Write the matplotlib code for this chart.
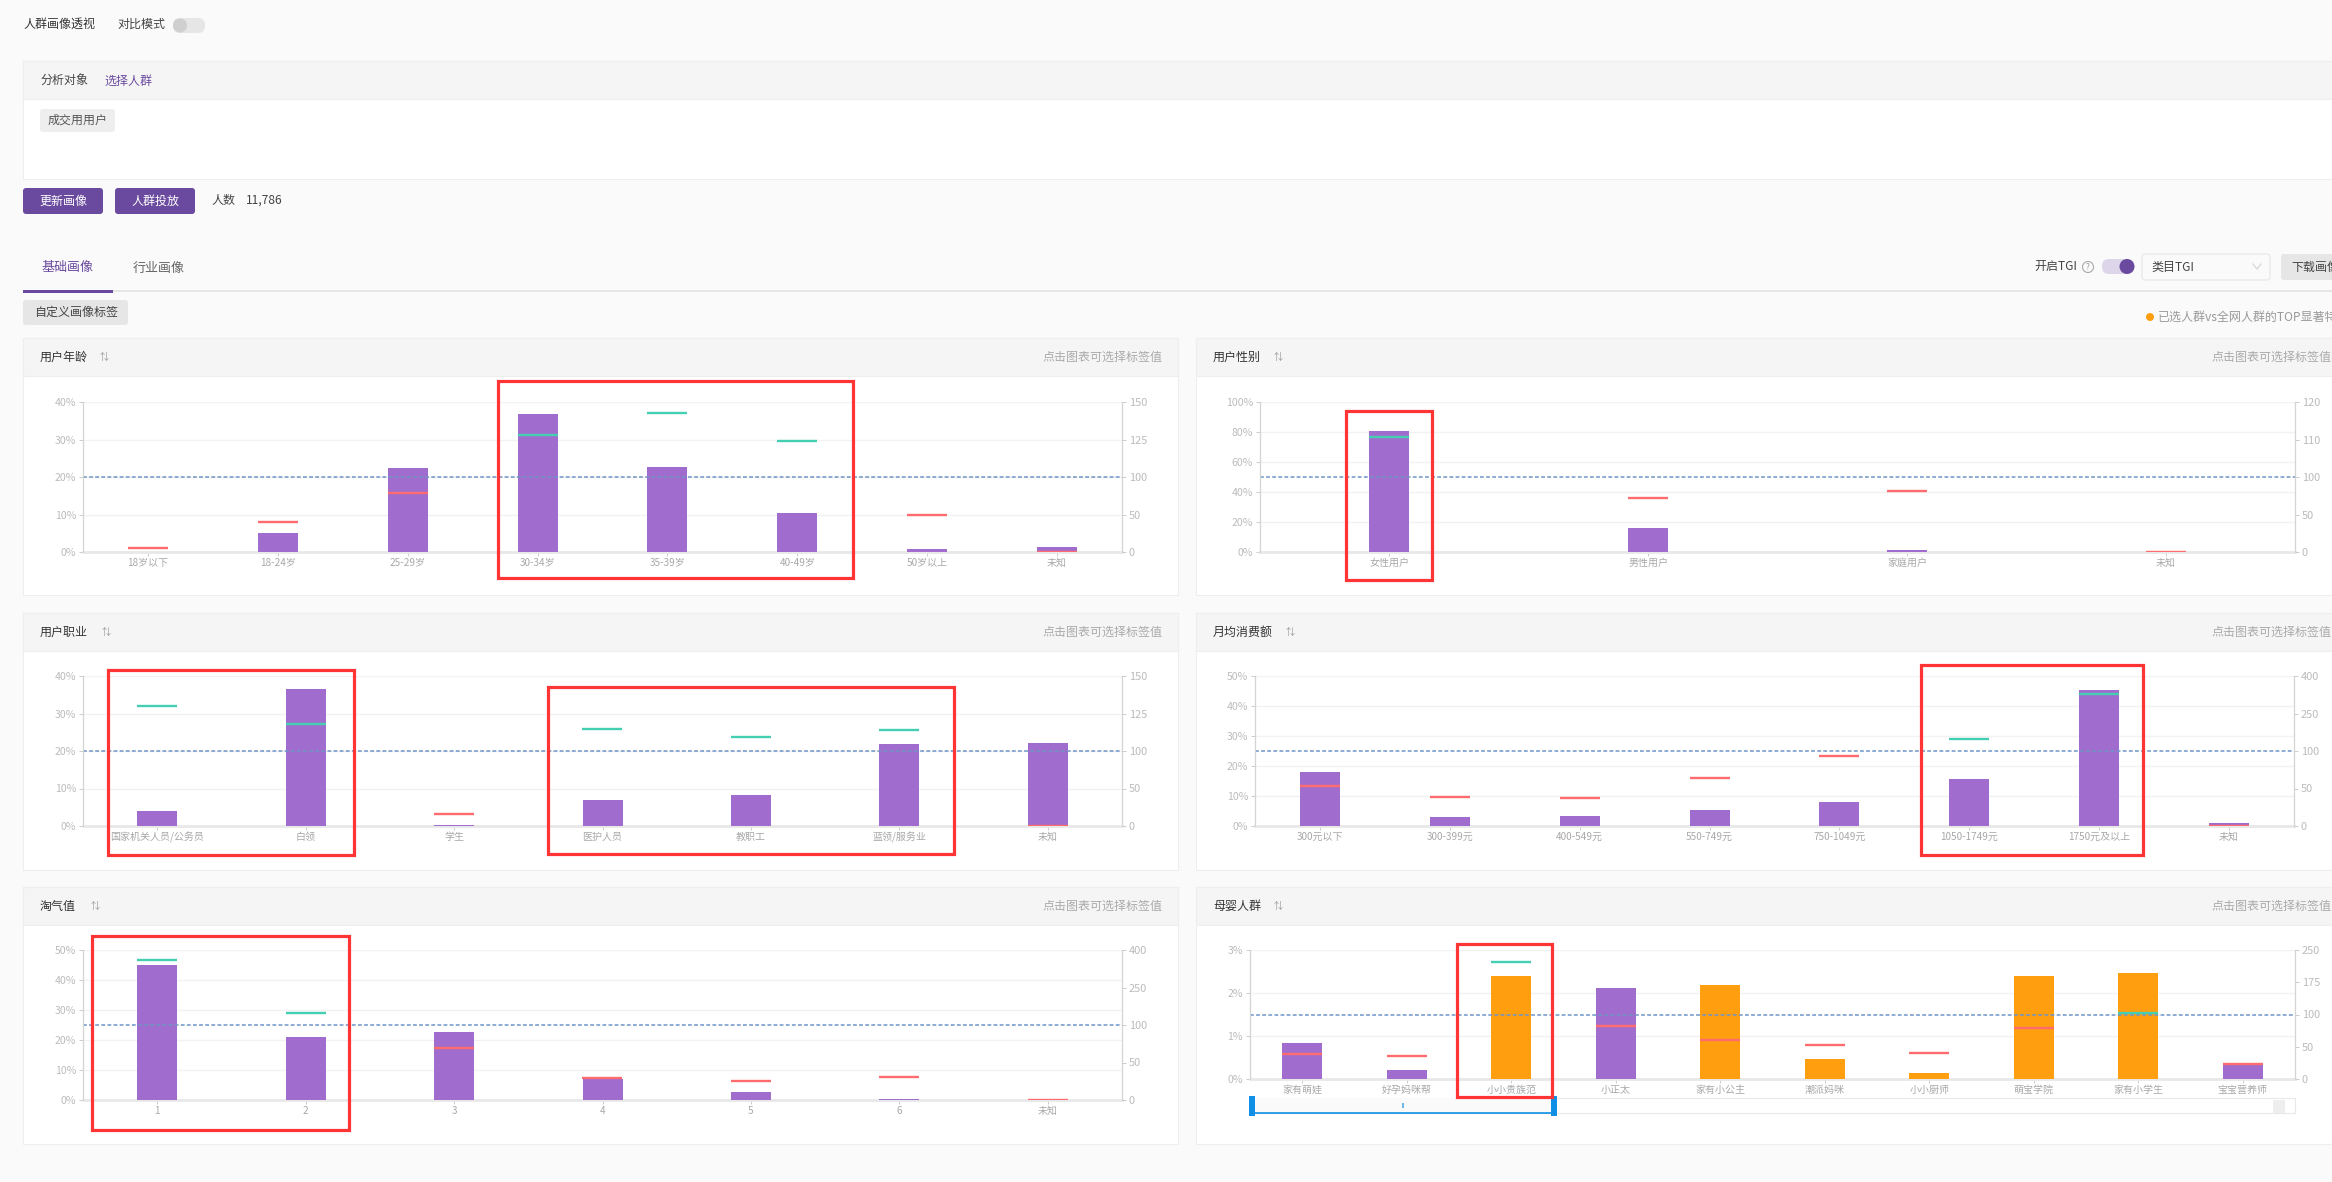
import numpy as np
import matplotlib
matplotlib.use("Agg")
import matplotlib.pyplot as plt
from matplotlib.patches import Rectangle, FancyBboxPatch, Circle

plt.rcParams['font.family'] = ['Noto Sans CJK SC', 'DejaVu Sans']

W, H = 2332, 1182

# chart data, bars are share in %, tgi goes on the right axis
age_labels = ["18岁以下", "18-24岁", "25-29岁", "30-34岁", "35-39岁", "40-49岁", "50岁以上", "未知"]
age_share = [0, 5.0, 22.3, 36.9, 22.8, 10.3, 0.9, 1.25]
age_tgi = [6, 40, 79, 128, 143, 124, 49, 0]

gender_labels = ["女性用户", "男性用户", "家庭用户", "未知"]
gender_share = [80.8, 16, 1.1, 0]
gender_tgi = [110.8, 72, 81, 0]

job_labels = ["国家机关人员/公务员", "白领", "学生", "医护人员", "教职工", "蓝领/服务业", "未知"]
job_share = [3.9, 36.5, 0.3, 6.9, 8.4, 21.8, 22.1]
job_tgi = [130, 118, 16, 115, 109.5, 114, 0]

spend_labels = ["300元以下", "300-399元", "400-549元", "550-749元", "750-1049元", "1050-1749元", "1750元及以上", "未知"]
spend_share = [17.9, 3, 3.2, 5.5, 8.1, 15.6, 45.3, 0.9]
spend_tgi = [53, 39, 37, 64, 94, 150, 329, 0]

taoqi_labels = ["1", "2", "3", "4", "5", "6", "未知"]
taoqi_share = [45, 20.9, 22.8, 7.1, 2.7, 0.35, 0]
taoqi_tgi = [361, 149, 69, 29, 25, 31, 0.5]

baby_labels = ["家有萌娃", "好孕妈咪帮", "小小贵族范", "小正太", "家有小公主", "潮派妈咪", "小小厨师", "萌宝学院", "家有小学生", "宝宝营养师"]
baby_share = [0.83, 0.21, 2.39, 2.12, 2.19, 0.47, 0.14, 2.39, 2.47, 0.33]
baby_tgi = [38, 36, 222, 82, 60, 52, 41, 79, 104, 23]
baby_top = [False, False, True, False, True, True, True, True, True, False]

PURPLE = "#a06dce"
ORANGE = "#ff9f0f"
DEEP = "#6a4a9e"
RED = "#ff6b6e"
GREEN = "#45cfb2"
BOX = "#ff3535"


def px(size):
    return size * 0.72


fig = plt.figure(figsize=(W / 100, H / 100), dpi=100, facecolor="#fafafa")
bg = fig.add_axes([0, 0, 1, 1], zorder=0)
bg.set_xlim(0, W)
bg.set_ylim(H, 0)
bg.axis("off")
over = fig.add_axes([0, 0, 1, 1], zorder=10)
over.set_xlim(0, W)
over.set_ylim(H, 0)
over.axis("off")
over.patch.set_alpha(0)


def rect(x0, y0, x1, y1, color, edge="none", lw=0):
    bg.add_patch(Rectangle((x0, y0), x1 - x0, y1 - y0, facecolor=color, edgecolor=edge, linewidth=lw))


def rbox(x0, y0, x1, y1, color, r=3, edge="none", zorder=2):
    bg.add_patch(FancyBboxPatch((x0 + r, y0 + r), x1 - x0 - 2 * r, y1 - y0 - 2 * r,
                                boxstyle="round,pad=%d" % r, facecolor=color, edgecolor=edge,
                                linewidth=0.8, zorder=zorder))


def label(x, y, s, size=12, color="#444444", ha="left"):
    bg.text(x, y, s, fontsize=px(size), color=color, ha=ha, va="center", zorder=5)


def toggle(x0, x1, y0, y1, track, knob_x, knob, knob_r):
    r = (y1 - y0) / 2
    rbox(x0, y0, x1, y1, track, r=int(r))
    bg.add_patch(Circle((knob_x, (y0 + y1) / 2), knob_r, facecolor=knob, edgecolor="none", zorder=3))


# top of the page
label(23, 24, "人群画像透视", 12, "#333333")
label(117, 24, "对比模式", 12, "#444444")
toggle(173, 205, 18, 33, "#e6e6e6", 180, "#cfcfcf", 7)

rect(23, 61, 2340, 179, "white", "#eeeeee", 0.8)
rect(23, 61, 2340, 99, "#f5f5f5", "#eeeeee", 0.8)
label(40, 81, "分析对象", 12, "#444444")
label(104, 81, "选择人群", 12, DEEP)
rbox(40, 109, 115, 132, "#eeeeee")
label(48, 120, "成交用用户", 12, "#555555")

rbox(23, 188, 103, 214, DEEP)
label(63, 201, "更新画像", 12, "white", ha="center")
rbox(115, 188, 195, 214, DEEP)
label(155, 201, "人群投放", 12, "white", ha="center")
label(211, 200, "人数", 12, "#444444")
label(246, 200, "11,786", 12, "#444444")

label(42, 268, "基础画像", 13, DEEP)
label(133, 268, "行业画像", 13, "#666666")
rect(23, 290, W, 292, "#e6e6e6")
rect(23, 290, 113, 292.5, DEEP)
rbox(23, 300, 128, 325, "#e6e6e6")
label(34, 312, "自定义画像标签", 12, "#444444")

label(2034, 266, "开启TGI", 12, "#444444")
bg.add_patch(Circle((2088, 267), 5.5, facecolor="none", edgecolor="#aaaaaa", linewidth=0.8))
label(2088, 267, "?", 8, "#999999", ha="center")
toggle(2102, 2134, 259, 274, "#ddd6ea", 2127, DEEP, 7.5)
rbox(2142, 254, 2270, 280, "#fafafa", edge="#e6e6e6")
label(2151, 267, "类目TGI", 12, "#444444")
bg.plot([2253, 2257, 2261], [264, 269, 264], color="#d8d8d8", lw=0.9)
rbox(2281, 254, 2345, 280, "#e6e6e6")
label(2291, 267, "下载画像", 12, "#444444")
bg.add_patch(Circle((2150, 317), 4, facecolor=ORANGE, edgecolor="none"))
label(2158, 317, "已选人群vs全网人群的TOP显著特征", 12, "#999999")


def panel(x0, y0, x1, y1, title, sort_x, hint_x):
    rect(x0, y0, x1, y1, "white", "#eeeeee", 0.8)
    rect(x0, y0, x1, y0 + 38, "#f5f5f5", "#eeeeee", 0.8)
    label(x0 + 17, y0 + 19, title, 12, "#333333")
    label(sort_x, y0 + 19, "⇅", 9, "#999999", ha="center")
    label(hint_x, y0 + 19, "点击图表可选择标签值", 12, "#aaaaaa")


def chart(x0, y_top, x1, y_bot, labels, share, tgi, left_ticks, right_ticks, colors=None):
    ax = fig.add_axes([x0 / W, 1 - y_bot / H, (x1 - x0) / W, (y_bot - y_top) / H], zorder=2)
    ax.patch.set_alpha(0)
    n = len(labels)
    pos = np.arange(n)
    bar_w = 40 * n / (x1 - x0)
    ax.bar(pos, share, width=bar_w, color=colors if colors else PURPLE, zorder=3)
    ax.set_xlim(-0.5, n - 0.5)
    ax.set_ylim(left_ticks[0], left_ticks[-1])
    ax.set_yticks(left_ticks)
    ax.set_yticklabels([str(t) + "%" for t in left_ticks])
    ax.set_xticks(pos)
    ax.set_xticklabels(labels)
    ax.grid(axis="y", color="#f2f2f2", lw=1)
    ax.set_axisbelow(True)
    ax.tick_params(axis="x", length=3, width=0.7, color="#cccccc", labelsize=px(10), labelcolor="#a8a8a8", pad=1)
    ax.tick_params(axis="y", length=3, width=0.7, color="#cccccc", labelsize=px(10.5), labelcolor="#bbbbbb", pad=2)

    # right axis ticks are evenly spaced but not linear
    steps = np.arange(len(right_ticks))
    ax2 = ax.twinx()
    ax2.set_zorder(3)
    ax2.set_yscale("function", functions=(lambda v: np.interp(v, right_ticks, steps),
                                          lambda p: np.interp(p, steps, right_ticks)))
    ax2.set_ylim(right_ticks[0], right_ticks[-1])
    ax2.set_yticks(right_ticks)
    ax2.set_yticklabels([str(t) for t in right_ticks])
    ax2.minorticks_off()
    ax2.tick_params(axis="y", length=3, width=0.7, color="#cccccc", labelsize=px(11), labelcolor="#bbbbbb", pad=2)
    ax2.axhline(100, color="#6f94c6", lw=1.1, ls=(0, (2.5, 1.5)), zorder=1)
    for p, t in zip(pos, tgi):
        ax2.hlines(t, p - bar_w / 2, p + bar_w / 2, color=GREEN if t > 100 else RED, lw=1.7, zorder=4)

    for a in (ax, ax2):
        a.spines["top"].set_visible(False)
        a.spines["left"].set_color("#d4d4d4")
        a.spines["right"].set_color("#d4d4d4")
        a.spines["left"].set_linewidth(0.8)
        a.spines["right"].set_linewidth(0.8)
    ax.spines["bottom"].set_color("#e8e8e8")
    ax.spines["bottom"].set_linewidth(2.0)
    ax2.spines["bottom"].set_visible(False)
    return ax


def red_box(x0, y0, x1, y1):
    over.add_patch(Rectangle((x0, y0), x1 - x0, y1 - y0, facecolor="none", edgecolor=BOX, linewidth=2.3))


panel(23, 338, 1178, 595, "用户年龄", 104, 1042)
panel(1196, 338, 2345, 595, "用户性别", 1278, 2211)
panel(23, 613, 1178, 870, "用户职业", 106, 1042)
panel(1196, 613, 2345, 870, "月均消费额", 1290, 2211)
panel(23, 887, 1178, 1144, "淘气值", 95, 1042)
panel(1196, 887, 2345, 1144, "母婴人群", 1278, 2211)

chart(83, 402, 1122, 552, age_labels, age_share, age_tgi, [0, 10, 20, 30, 40], [0, 50, 100, 125, 150])
chart(1260, 402, 2295, 552, gender_labels, gender_share, gender_tgi, [0, 20, 40, 60, 80, 100], [0, 50, 100, 110, 120])
chart(83, 676, 1122, 826, job_labels, job_share, job_tgi, [0, 10, 20, 30, 40], [0, 50, 100, 125, 150])
chart(1255, 676, 2294, 826, spend_labels, spend_share, spend_tgi, [0, 10, 20, 30, 40, 50], [0, 50, 100, 250, 400])
chart(83, 950, 1122, 1100, taoqi_labels, taoqi_share, taoqi_tgi, [0, 10, 20, 30, 40, 50], [0, 50, 100, 250, 400])
baby_colors = [ORANGE if t else PURPLE for t in baby_top]
chart(1250, 950, 2295, 1079, baby_labels, baby_share, baby_tgi, [0, 1, 2, 3], [0, 50, 100, 175, 250], baby_colors)

# slider under the last chart
over.add_patch(Rectangle((1250, 1098), 1045, 15, facecolor="white", edgecolor="#e8e8e8", linewidth=0.8))
over.add_patch(Rectangle((2273, 1100), 12, 13, facecolor="#eeeeee", edgecolor="none"))
over.add_patch(Rectangle((1252, 1098), 302, 15, facecolor="#fafafa", edgecolor="none"))
over.plot([1252, 1554], [1113, 1113], color="#0f8fe6", lw=1.2)
for hx in (1252, 1554):
    over.add_patch(Rectangle((hx - 3, 1096), 6, 20, facecolor="#0f8fe6", edgecolor="none"))
over.add_patch(Rectangle((1402, 1103), 2, 5, facecolor="#6fb6e8", edgecolor="none"))

red_box(498, 381, 853, 578)
red_box(1346, 411, 1432, 580)
red_box(108, 670, 354, 855)
red_box(548, 687, 954, 854)
red_box(1921, 665, 2143, 855)
red_box(92, 936, 349, 1130)
red_box(1457, 944, 1552, 1097)

fig.savefig("out.png", dpi=100, facecolor=fig.get_facecolor())
